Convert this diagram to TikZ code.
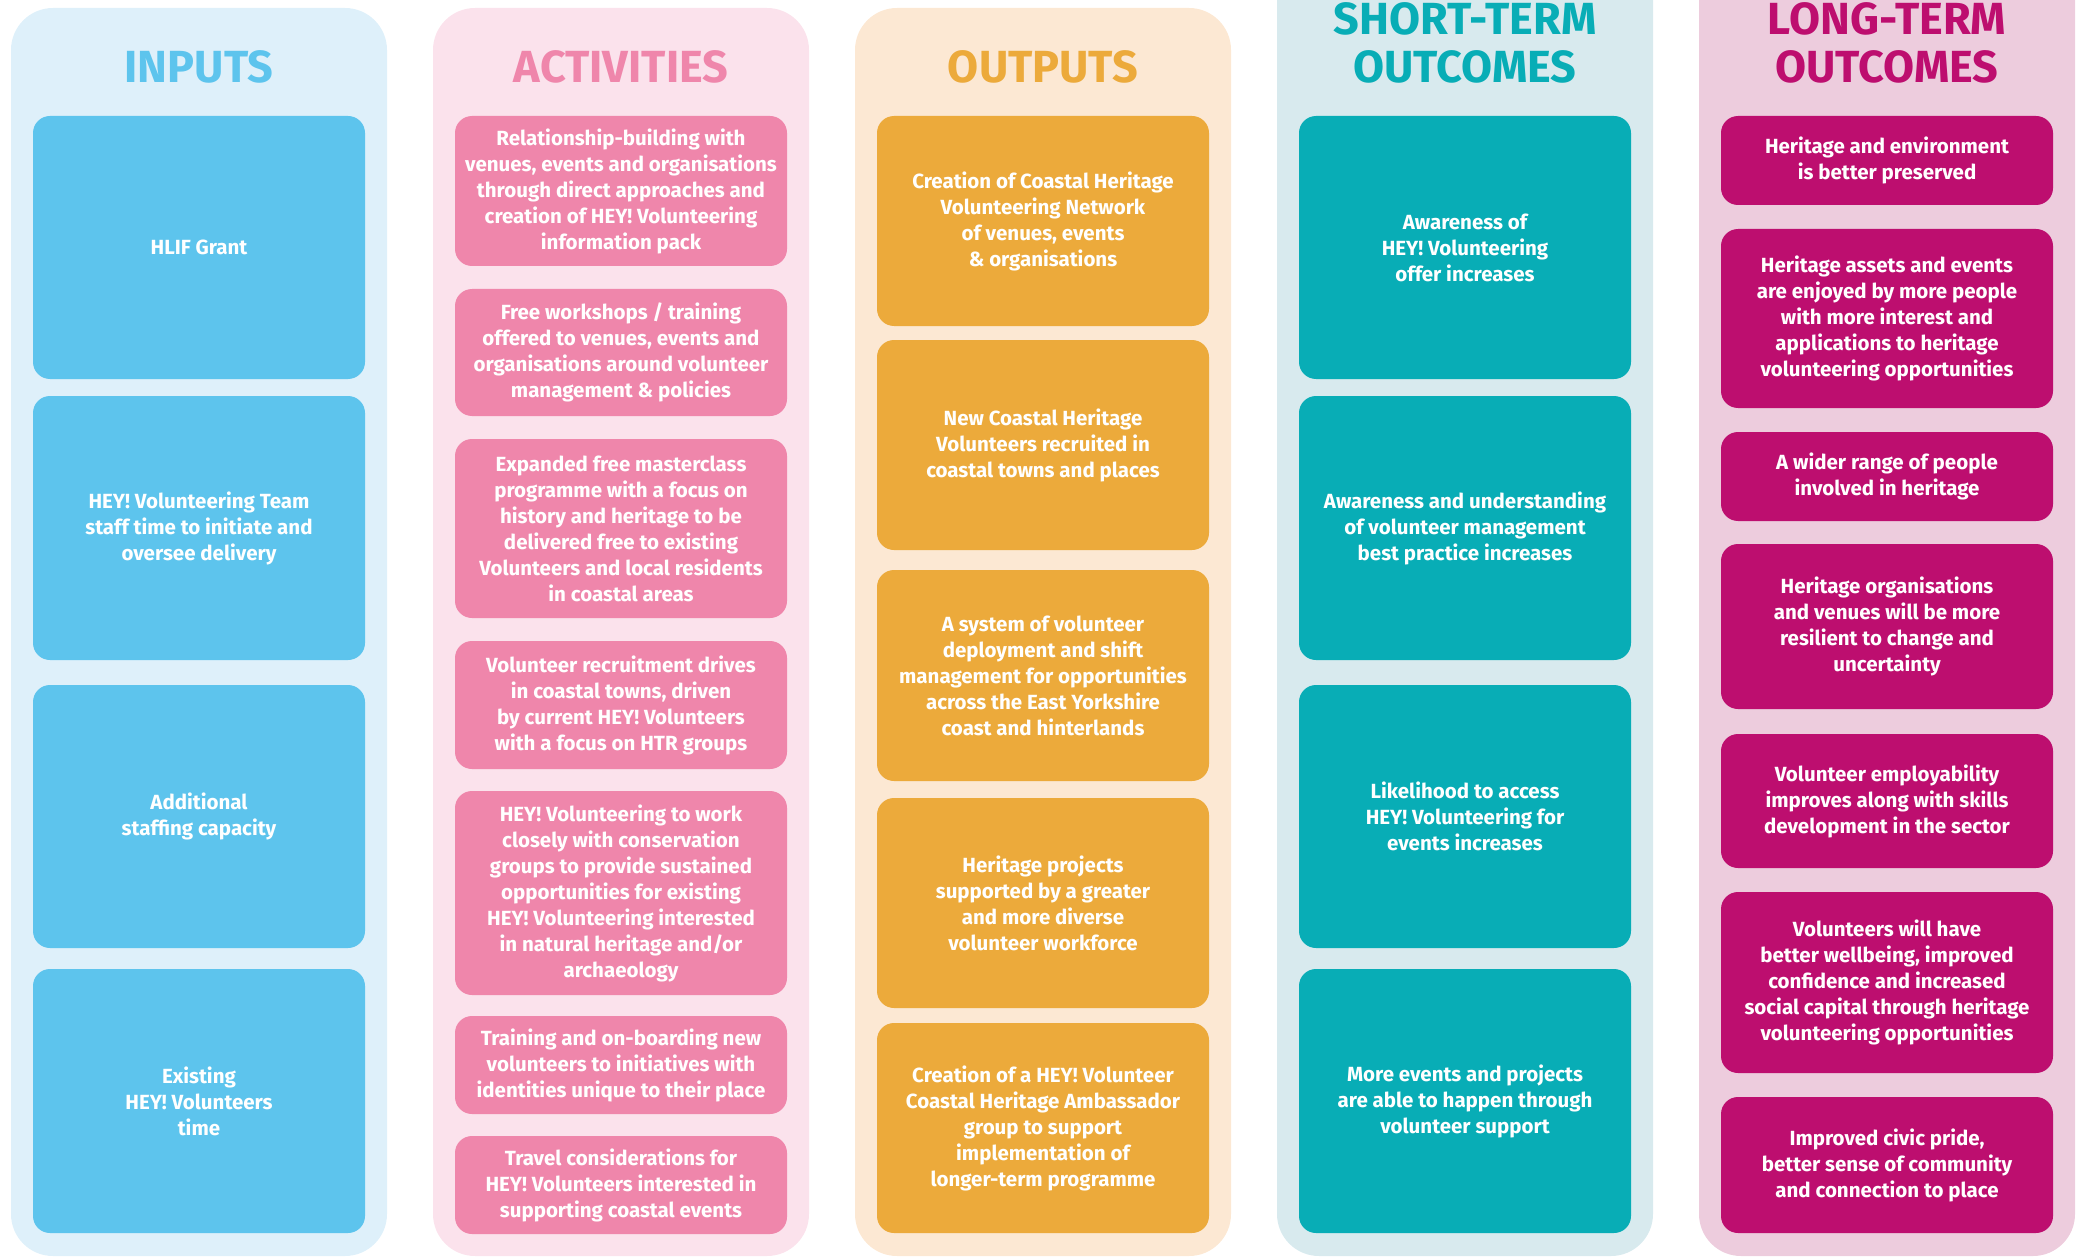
\documentclass[tikz,border=0pt]{standalone}
\usepackage{fontspec}
\setmainfont{Fira Sans}
\usepackage{xcolor}
\usepackage{tikz}
\definecolor{inBg}{HTML}{DEF0FA}
\definecolor{inFg}{HTML}{5DC4ED}
\definecolor{actBg}{HTML}{FBE2EC}
\definecolor{actFg}{HTML}{EF86AB}
\definecolor{outBg}{HTML}{FCE8D3}
\definecolor{outFg}{HTML}{ECAA3B}
\definecolor{stBg}{HTML}{D8EAEE}
\definecolor{stFg}{HTML}{08ADB6}
\definecolor{ltBg}{HTML}{EDCCDD}
\definecolor{ltFg}{HTML}{BD0E6F}
\tikzset{
  lane/.style={rounded corners=42pt},
  title/.style={anchor=base,inner sep=0pt,align=center,
    font=\fontsize{45}{48}\selectfont\bfseries},
  box/.style={rounded corners=17pt,inner sep=0pt,minimum width=332pt,
    align=center,text=white,font=\fontsize{20.5}{26}\selectfont\bfseries},
  in node/.style={box,fill=inFg},
  act node/.style={box,fill=actFg},
  out node/.style={box,fill=outFg},
  st node/.style={box,fill=stFg},
  lt node/.style={box,fill=ltFg}
}

\begin{document}
\begin{tikzpicture}[x=1pt,y=-1pt]
  \useasboundingbox (0,0) rectangle (2085,1257);
  \clip (0,0) rectangle (2085,1257);
  % column backgrounds
  \fill[lane,inBg] (11,8) rectangle (387,1256);
  \fill[lane,actBg] (433,8) rectangle (809,1256);
  \fill[lane,outBg] (855,8) rectangle (1231,1256);
  \fill[lane,stBg] (1277,-60) rectangle (1653,1256);
  \fill[lane,ltBg] (1699,-60) rectangle (2075,1256);

  % headings
  \node[title,text=inFg] (tin) at (199,83) {INPUTS};
  \node[title,text=actFg] (tact) at (621,83) {ACTIVITIES};
  \node[title,text=outFg] (tout) at (1043,83) {OUTPUTS};
  \node[title,text=stFg] (tst) at (1465,83) {SHORT-TERM\\OUTCOMES};
  \node[title,text=ltFg] (tlt) at (1887,83) {LONG-TERM\\OUTCOMES};

  % inputs
  \node[in node,minimum height=263pt] (in1) at (199,247.5) {HLIF Grant};
  \node[in node,minimum height=264pt] (in2) at (199,528)
    {HEY! Volunteering Team\\staff time to initiate and\\oversee delivery};
  \node[in node,minimum height=263pt] (in3) at (199,816.5)
    {Additional\\staffing capacity};
  \node[in node,minimum height=264pt] (in4) at (199,1101)
    {Existing\\HEY! Volunteers\\time};

  % activities
  \node[act node,minimum height=150pt] (act1) at (621,191)
    {Relationship-building with\\venues, events and organisations\\through direct approaches and\\creation of HEY! Volunteering\\information pack};
  \node[act node,minimum height=127pt] (act2) at (621,352.5)
    {Free workshops / training\\offered to venues, events and\\organisations around volunteer\\management \& policies};
  \node[act node,minimum height=179pt] (act3) at (621,528.5)
    {Expanded free masterclass\\programme with a focus on\\history and heritage to be\\delivered free to existing\\Volunteers and local residents\\in coastal areas};
  \node[act node,minimum height=128pt] (act4) at (621,705)
    {Volunteer recruitment drives\\in coastal towns, driven\\by current HEY! Volunteers\\with a focus on HTR groups};
  \node[act node,minimum height=204pt] (act5) at (621,893)
    {HEY! Volunteering to work\\closely with conservation\\groups to provide sustained\\opportunities for existing\\HEY! Volunteering interested\\in natural heritage and/or\\archaeology};
  \node[act node,minimum height=98pt] (act6) at (621,1065)
    {Training and on-boarding new\\volunteers to initiatives with\\identities unique to their place};
  \node[act node,minimum height=98pt] (act7) at (621,1185)
    {Travel considerations for\\HEY! Volunteers interested in\\supporting coastal events};

  % outputs
  \node[out node,minimum height=210pt] (out1) at (1043,221)
    {Creation of Coastal Heritage\\Volunteering Network\\of venues, events\\\& organisations};
  \node[out node,minimum height=210pt] (out2) at (1043,445)
    {New Coastal Heritage\\Volunteers recruited in\\coastal towns and places};
  \node[out node,minimum height=211pt] (out3) at (1043,675.5)
    {A system of volunteer\\deployment and shift\\management for opportunities\\across the East Yorkshire\\coast and hinterlands};
  \node[out node,minimum height=210pt] (out4) at (1043,903)
    {Heritage projects\\supported by a greater\\and more diverse\\volunteer workforce};
  \node[out node,minimum height=210pt] (out5) at (1043,1128)
    {Creation of a HEY! Volunteer\\Coastal Heritage Ambassador\\group to support\\implementation of\\longer-term programme};

  % short-term outcomes
  \node[st node,minimum height=263pt] (st1) at (1465,247.5)
    {Awareness of\\HEY! Volunteering\\offer increases};
  \node[st node,minimum height=264pt] (st2) at (1465,528)
    {Awareness and understanding\\of volunteer management\\best practice increases};
  \node[st node,minimum height=263pt] (st3) at (1465,816.5)
    {Likelihood to access\\HEY! Volunteering for\\events increases};
  \node[st node,minimum height=264pt] (st4) at (1465,1101)
    {More events and projects\\are able to happen through\\volunteer support};

  % long-term outcomes
  \node[lt node,minimum height=89pt] (lt1) at (1887,160.5)
    {Heritage and environment\\is better preserved};
  \node[lt node,minimum height=179pt] (lt2) at (1887,318.5)
    {Heritage assets and events\\are enjoyed by more people\\with more interest and\\applications to heritage\\volunteering opportunities};
  \node[lt node,minimum height=89pt] (lt3) at (1887,476.5)
    {A wider range of people\\involved in heritage};
  \node[lt node,minimum height=165pt] (lt4) at (1887,626.5)
    {Heritage organisations\\and venues will be more\\resilient to change and\\uncertainty};
  \node[lt node,minimum height=134pt] (lt5) at (1887,801)
    {Volunteer employability\\improves along with skills\\development in the sector};
  \node[lt node,minimum height=181pt] (lt6) at (1887,982.5)
    {Volunteers will have\\better wellbeing, improved\\confidence and increased\\social capital through heritage\\volunteering opportunities};
  \node[lt node,minimum height=136pt] (lt7) at (1887,1165)
    {Improved civic pride,\\better sense of community\\and connection to place};
\end{tikzpicture}
\end{document}
